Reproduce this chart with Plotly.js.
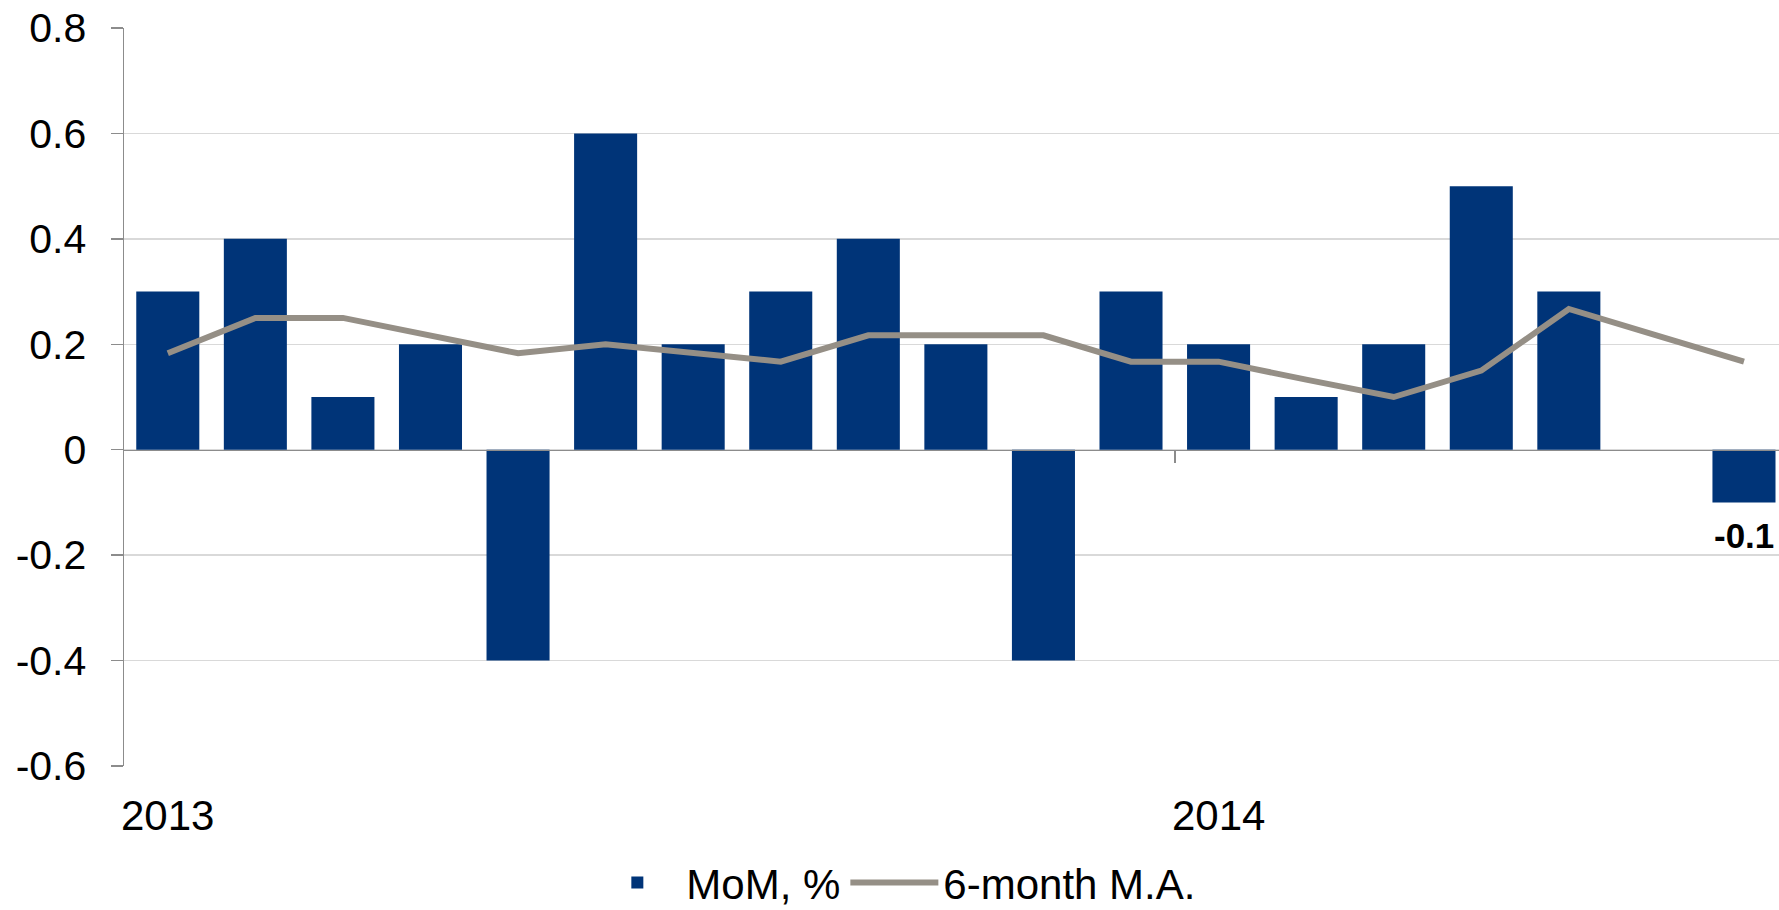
<!DOCTYPE html>
<html>
<head>
<meta charset="utf-8">
<script src="https://cdn.plot.ly/plotly-3.0.1.min.js"></script>
<style>html,body{margin:0;padding:0;background:#fff;}#chart{width:1779px;height:910px;}</style>
</head>
<body>
<div id="chart"></div>
<script>
const months = ['Jan 2013','Feb 2013','Mar 2013','Apr 2013','May 2013','Jun 2013','Jul 2013','Aug 2013','Sep 2013','Oct 2013','Nov 2013','Dec 2013','Jan 2014','Feb 2014','Mar 2014','Apr 2014','May 2014','Jun 2014','Jul 2014'];
const momValues = [0.3, 0.4, 0.1, 0.2, -0.4, 0.6, 0.2, 0.3, 0.4, 0.2, -0.4, 0.3, 0.2, 0.1, 0.2, 0.5, 0.3, 0.0, -0.1];
const maValues = [0.183, 0.25, 0.25, 0.217, 0.183, 0.2, 0.183, 0.167, 0.217, 0.217, 0.217, 0.167, 0.167, 0.133, 0.1, 0.15, 0.267, 0.217, 0.167];
const barLabels = ['', '', '', '', '', '', '', '', '', '', '', '', '', '', '', '', '', '', '-0.1'];
const yTickVals = [-0.6, -0.4, -0.2, 0, 0.2, 0.4, 0.6, 0.8];
const yTickText = ['-0.6', '-0.4', '-0.2', '0', '0.2', '0.4', '0.6', '0.8'];
const yearLabels = ['2013', '2014'];
const yearStartPos = [-0.5, 11.5];

const FONT = 'Liberation Sans, Arial, Helvetica, sans-serif';
const yMin = -0.6, yMax = 0.8;

const traces = [
  {
    type: 'bar', name: 'MoM, %', x: months, y: momValues,
    marker: {color: '#003478', line: {width: 0}},
    hoverinfo: 'x+y'
  },
  {
    type: 'scatter', mode: 'lines', name: '6-month M.A.', x: months, y: maValues,
    line: {color: '#958f86', width: 6}, hoverinfo: 'x+y'
  }
];

const annotations = yearLabels.map((t, i) => ({
  text: t, x: yearStartPos[i], xref: 'x', y: yMin, yref: 'y',
  xanchor: 'left', yanchor: 'top', yshift: -24, xshift: -5, showarrow: false,
  font: {family: FONT, size: 42, color: '#000'}
}));

barLabels.forEach((t, i) => {
  if (!t) return;
  annotations.push({
    text: t, x: months[i], xref: 'x', y: momValues[i], yref: 'y',
    xanchor: 'center', yanchor: momValues[i] < 0 ? 'top' : 'bottom',
    yshift: momValues[i] < 0 ? -12 : 12, showarrow: false,
    font: {family: FONT, size: 35, color: '#000', weight: 700}
  });
});

const layout = {
  width: 1779, height: 910,
  margin: {l: 124, r: 0, t: 28, b: 144},
  paper_bgcolor: '#fff', plot_bgcolor: '#fff',
  font: {family: FONT, color: '#000'},
  bargap: 0.28,
  showlegend: true,
  legend: {
    orientation: 'h', xref: 'container', x: 0.503, xanchor: 'center',
    yref: 'container', y: 0.03, yanchor: 'middle',
    font: {family: FONT, size: 42, color: '#000'}, traceorder: 'normal',
    itemwidth: 88
  },
  xaxis: {
    type: 'category', range: [-0.5, 18.4],
    anchor: 'free', position: (0 - yMin) / (yMax - yMin),
    showline: true, linecolor: '#8c8c8c', linewidth: 1.5,
    showgrid: false, zeroline: false,
    tickmode: 'array', tickvals: [11.5], ticktext: [''],
    ticks: 'outside', ticklen: 12, tickwidth: 1.5, tickcolor: '#8c8c8c',
    showticklabels: false, fixedrange: true
  },
  yaxis: {
    range: [yMin, yMax], tickmode: 'array', tickvals: yTickVals, ticktext: yTickText,
    showline: true, linecolor: '#8c8c8c', linewidth: 1.5,
    showgrid: true, gridcolor: '#d9d9d9', gridwidth: 1.5,
    zeroline: false,
    ticks: 'outside', ticklen: 12, tickwidth: 1.5, tickcolor: '#8c8c8c',
    ticklabelstandoff: 16,
    tickfont: {family: FONT, size: 41, color: '#000'}, fixedrange: true
  },
  annotations: annotations
};

Plotly.newPlot('chart', traces, layout, {displayModeBar: false, staticPlot: true});
</script>
</body>
</html>
